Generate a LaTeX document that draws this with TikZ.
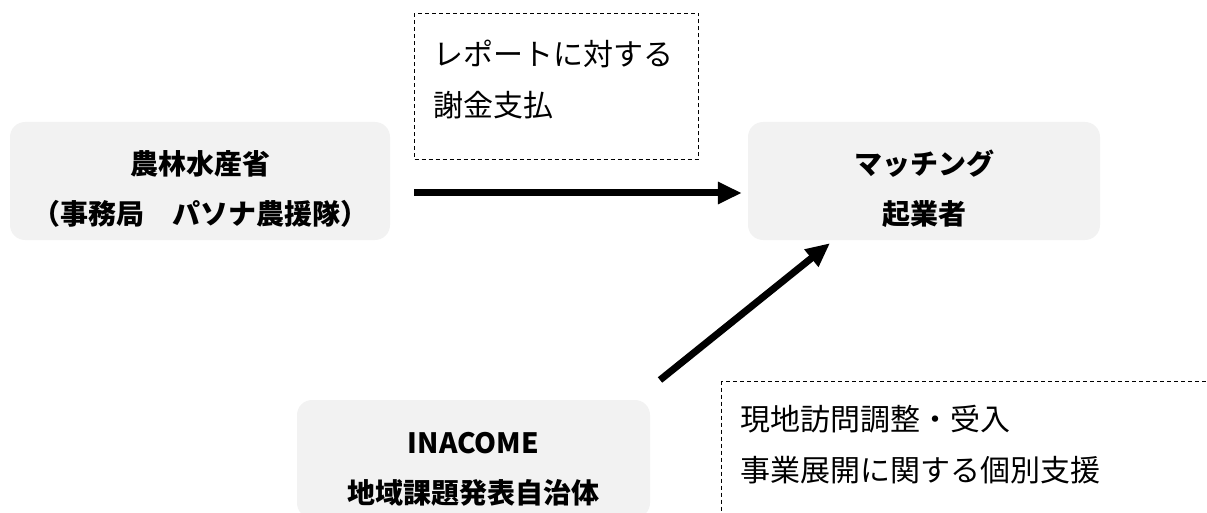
\documentclass[tikz,border=0pt]{standalone}
\usepackage{fontspec}
\newfontfamily\jpfont{Noto Sans CJK JP}
\usepackage{tikz}
\usetikzlibrary{arrows.meta}
\definecolor{boxgray}{HTML}{F2F2F2}

\begin{document}
\begin{tikzpicture}[
            x=1pt, y=-1pt,
            orgbox/.style={rectangle, rounded corners=15pt, fill=boxgray, align=center, inner sep=0pt,
                text height=103pt, text depth=15pt, font=\jpfont\bfseries\fontsize{28}{50}\selectfont}, % grey boxes
            notebox/.style={rectangle, draw, dash pattern=on 4pt off 3pt, line width=1pt, anchor=north west,
                align=left, inner xsep=19pt, inner ysep=0pt, font=\jpfont\fontsize{30}{51}\selectfont}, % dashed notes
            flow/.style={line width=7pt, -{Triangle[length=24pt, width=21pt]}} % thick arrows
            ]
        \useasboundingbox (0,0) rectangle (1207,513);
        \clip (0,0) rectangle (1207,513);

                % the three parties
                \node[orgbox, minimum width=380pt] (maff) at (200,181) {農林水産省\\（事務局　パソナ農援隊）};
                \node[orgbox, minimum width=352pt] (match) at (924,181) {マッチング\\起業者};
                \node[orgbox, minimum width=353pt] (inacome) at (473.5,459) {INACOME\\地域課題発表自治体};

                % dashed notes
                \node[notebox, text width=246pt, text height=52pt, text depth=94pt] (fee) at (414,13) {レポートに対する\\謝金支払};
                \node[notebox, text width=500pt, text height=49pt, text depth=150pt] (support) at (721,381) {現地訪問調整・受入\\事業展開に関する個別支援};

                % arrows
                \coordinate (a1) at (414,193);
                \coordinate (a2) at (660,380);
                \draw[flow, shorten >=6pt] (a1) -- (a1 -| match.west);
                \draw[flow] (a2) -- ([xshift=-94pt, yshift=-3pt]match.south);

            \end{tikzpicture}
\end{document}
